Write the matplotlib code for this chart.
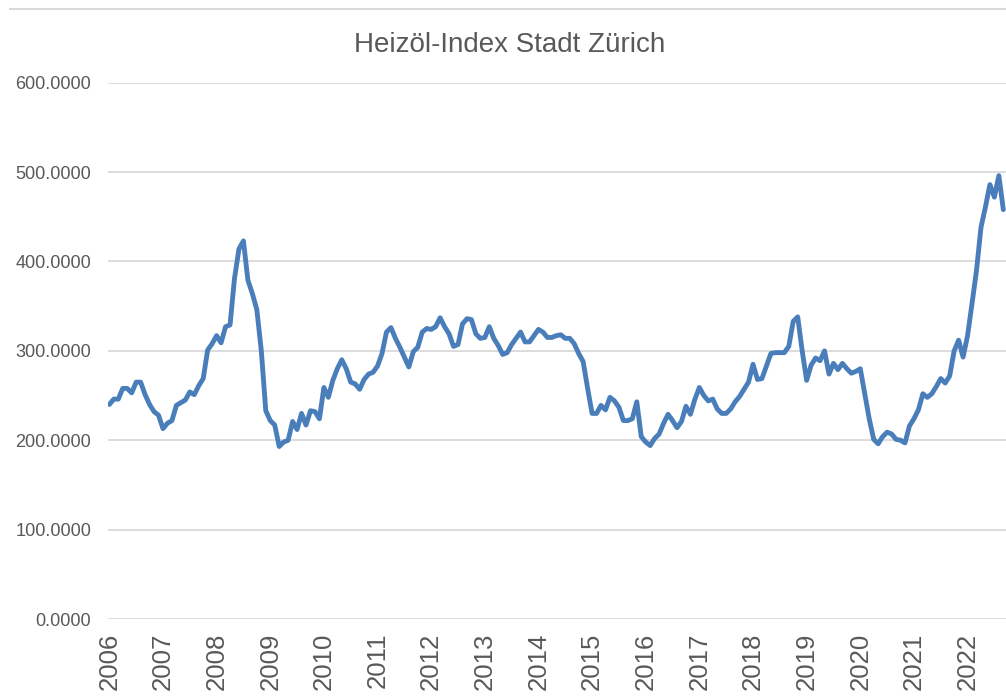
import numpy as np
import matplotlib
matplotlib.use('Agg')
import matplotlib.pyplot as plt
from matplotlib.lines import Line2D

plt.rcParams['font.family'] = ['Liberation Sans', 'DejaVu Sans']

# Monatswerte Jan 2006 - Sep 2022
v2006 = [240, 246, 246, 258, 258, 253, 265, 265, 251, 240, 232, 228]
v2007 = [213, 219, 222, 239, 242, 245, 254, 251, 261, 269, 301, 308]
v2008 = [317, 309, 327, 329, 381, 414, 423, 379, 364, 346, 300, 233]
v2009 = [222, 217, 193, 198, 200, 221, 212, 230, 217, 233, 232, 224]
v2010 = [259, 248, 267, 280, 290, 280, 265, 263, 257, 268, 274, 276]
v2011 = [283, 297, 321, 326, 314, 304, 293, 282, 299, 304, 321, 325]
v2012 = [324, 327, 337, 327, 319, 305, 307, 330, 336, 335, 319, 314]
v2013 = [315, 327, 314, 306, 296, 298, 307, 314, 321, 310, 310, 317]
v2014 = [324, 321, 315, 315, 317, 318, 314, 314, 308, 297, 288, 258]
v2015 = [230, 230, 239, 234, 248, 244, 237, 222, 222, 224, 243, 204]
v2016 = [198, 194, 202, 207, 219, 229, 222, 214, 221, 238, 229, 246]
v2017 = [259, 250, 244, 246, 235, 230, 230, 235, 243, 249, 257, 265]
v2018 = [285, 268, 269, 283, 297, 298, 298, 298, 305, 333, 338, 300]
v2019 = [267, 284, 292, 289, 300, 274, 286, 279, 286, 280, 275, 277]
v2020 = [280, 252, 224, 201, 196, 204, 209, 207, 201, 200, 197, 216]
v2021 = [224, 234, 252, 248, 252, 260, 269, 264, 272, 300, 312, 293]
v2022 = [317, 353, 390, 438, 461, 486, 472, 496, 458]

werte = (v2006 + v2007 + v2008 + v2009 + v2010 + v2011 + v2012 + v2013 + v2014
         + v2015 + v2016 + v2017 + v2018 + v2019 + v2020 + v2021 + v2022)
jahre = [str(j) for j in range(2006, 2023)]
y_ticks = [0, 100, 200, 300, 400, 500, 600]

grau = '#595959'
blau = '#4a7ebb'

fig = plt.figure(figsize=(10.06, 6.97), dpi=100)
W, H = 1006, 697
ax = fig.add_axes([108 / W, (H - 619) / H, (W - 108) / W, (619 - 82.7) / H])

monate = np.arange(len(werte))
ax.plot(monate, werte, color=blau, linewidth=3.5, solid_joinstyle='round',
        solid_capstyle='round', zorder=3)

ax.set_xlim(-0.3, 200.6)
ax.set_ylim(0, 600)
ax.set_yticks(y_ticks)
ax.set_yticklabels([f'{t:.4f}' for t in y_ticks], fontsize=13.1, color=grau)
ax.set_xticks(np.arange(len(jahre)) * 12)
ax.set_xticklabels(jahre, rotation=90, fontsize=18.5, color=grau, va='top')
ax.tick_params(axis='y', length=0, pad=12)
ax.tick_params(axis='x', length=0, pad=10)
ax.yaxis.grid(True, color='#d9d9d9', linewidth=1.3, zorder=0)
ax.set_axisbelow(True)
for s in ax.spines.values():
    s.set_visible(False)

# Titel und Rahmenlinie oben
fig.text(510 / W, 1 - 51.7 / H, 'Heizöl-Index Stadt Zürich', ha='center',
         va='baseline', fontsize=20, color=grau)
fig.add_artist(Line2D([10 / W, 1], [1 - 9 / H, 1 - 9 / H], color='#d9d9d9',
                      linewidth=1.5))

fig.savefig('out.png', dpi=100)
